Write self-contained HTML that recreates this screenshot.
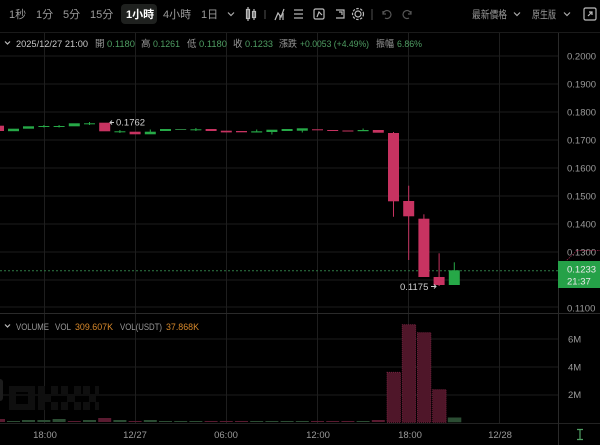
<!DOCTYPE html>
<html><head><meta charset="utf-8">
<style>
html,body{margin:0;padding:0;background:#000;width:600px;height:445px;overflow:hidden}
svg{display:block}
text{font-family:"Liberation Sans","Noto Sans CJK TC",sans-serif}
</style></head><body>
<svg width="600" height="445" viewBox="0 0 600 445" xmlns="http://www.w3.org/2000/svg">
<rect width="600" height="445" fill="#000"/>
<!-- toolbar -->
<rect x="121" y="4" width="36" height="20" rx="4" fill="#1f211f"/>
<g font-size="11" fill="#9a9a9a">
<text x="9" y="18">1秒</text>
<text x="36" y="18">1分</text>
<text x="63" y="18">5分</text>
<text x="90" y="18">15分</text>
<text x="126" y="18" fill="#fff" font-weight="bold">1小時</text>
<text x="163" y="18">4小時</text>
<text x="201" y="18">1日</text>
</g>
<path d="M228 12.5l3 3l3-3" stroke="#aaa" stroke-width="1.2" fill="none"/>
<!-- icons -->
<g stroke="#bbb" stroke-width="1.2" fill="none">
<rect x="246.5" y="9.5" width="3" height="9"/><line x1="248" y1="7" x2="248" y2="21"/>
<rect x="252.5" y="11.5" width="3" height="6"/><line x1="254" y1="9" x2="254" y2="20"/>
<line x1="265" y1="10" x2="265" y2="19" stroke="#444"/>
<path d="M275 20l3-7l3 4l3-8"/><line x1="280" y1="15" x2="280" y2="20"/><line x1="283" y1="13" x2="283" y2="20"/>
<line x1="294" y1="10" x2="303" y2="10"/><line x1="294" y1="14" x2="303" y2="14"/><line x1="294" y1="18" x2="303" y2="18"/>
<rect x="314" y="9" width="10" height="10" rx="1.5"/><path d="M317 17l2-5l3 3"/>
<path d="M336 10h8v8h-8"/><path d="M339 12h3v3"/>
<circle cx="358" cy="14" r="3"/><circle cx="358" cy="14" r="5.5" stroke-dasharray="2.5 1.5"/>
<line x1="372" y1="9" x2="372" y2="20" stroke="#444"/>
<path d="M383 11v3h3" stroke="#555"/><path d="M383 14a4 4 0 1 1 2 4" stroke="#555"/>
<path d="M411 11v3h-3" stroke="#555"/><path d="M411 14a4 4 0 1 0 -2 4" stroke="#555"/>
<rect x="584" y="8" width="12" height="12" rx="1.5"/><path d="M588 16l4-4M589 12h3v3" />
</g>
<g font-size="10.5" fill="#9a9a9a">
<text x="472" y="18" textLength="35" lengthAdjust="spacingAndGlyphs">最新價格</text>
<text x="532" y="18" textLength="24" lengthAdjust="spacingAndGlyphs">原生版</text>
</g>
<path d="M514 12.5l3 3l3-3M564 12.5l3 3l3-3" stroke="#aaa" stroke-width="1.2" fill="none"/>
<line x1="0" y1="32.5" x2="600" y2="32.5" stroke="#1a1a1a"/>

<!-- grid -->
<g stroke="#1c1c1c" stroke-width="1">
<line x1="0" y1="56" x2="558" y2="56"/>
<line x1="0" y1="84" x2="558" y2="84"/>
<line x1="0" y1="112" x2="558" y2="112"/>
<line x1="0" y1="140" x2="558" y2="140"/>
<line x1="0" y1="168" x2="558" y2="168"/>
<line x1="0" y1="196" x2="558" y2="196"/>
<line x1="0" y1="224" x2="558" y2="224"/>
<line x1="0" y1="252" x2="558" y2="252"/>
<line x1="0" y1="280" x2="558" y2="280"/>
<line x1="0" y1="307" x2="558" y2="307"/>
<line x1="0" y1="339" x2="558" y2="339"/>
<line x1="0" y1="367" x2="558" y2="367"/>
<line x1="0" y1="395" x2="558" y2="395"/>
</g>
<g stroke="#1e1e1e" stroke-width="1">
<line x1="44.5" y1="33" x2="44.5" y2="424"/>
<line x1="135.5" y1="33" x2="135.5" y2="424"/>
<line x1="226.5" y1="33" x2="226.5" y2="424"/>
<line x1="317.5" y1="33" x2="317.5" y2="424"/>
<line x1="408.5" y1="33" x2="408.5" y2="424"/>
<line x1="499.5" y1="33" x2="499.5" y2="424"/>
</g>
<line x1="0" y1="313.5" x2="600" y2="313.5" stroke="#2a2a2a"/>
<line x1="0" y1="423.5" x2="600" y2="423.5" stroke="#222"/>
<line x1="558.5" y1="33" x2="558.5" y2="445" stroke="#2a2a2a"/>

<!-- header row -->
<path d="M5 41.5l2.5 2.5l2.5-2.5" stroke="#bbb" stroke-width="1.2" fill="none"/>
<g font-size="9.5" fill="#9a9a9a" lengthAdjust="spacingAndGlyphs">
<text x="16" y="47" fill="#c8c8c8" textLength="72" lengthAdjust="spacingAndGlyphs">2025/12/27 21:00</text>
<text x="95" y="47">開</text><text x="107" y="47" fill="#4f9e63" textLength="28" lengthAdjust="spacingAndGlyphs">0.1180</text>
<text x="141" y="47">高</text><text x="153" y="47" fill="#4f9e63" textLength="27" lengthAdjust="spacingAndGlyphs">0.1261</text>
<text x="187" y="47">低</text><text x="199" y="47" fill="#4f9e63" textLength="28" lengthAdjust="spacingAndGlyphs">0.1180</text>
<text x="233" y="47">收</text><text x="245" y="47" fill="#4f9e63" textLength="28" lengthAdjust="spacingAndGlyphs">0.1233</text>
<text x="279" y="47" textLength="18" lengthAdjust="spacingAndGlyphs">漲跌</text><text x="300" y="47" fill="#4f9e63" textLength="69" lengthAdjust="spacingAndGlyphs">+0.0053 (+4.49%)</text>
<text x="376" y="47" textLength="18" lengthAdjust="spacingAndGlyphs">振幅</text><text x="397" y="47" fill="#4f9e63" textLength="25" lengthAdjust="spacingAndGlyphs">6.86%</text>
</g>

<!-- price axis -->
<g font-size="9.5" fill="#9a9a9a">
<text x="567" y="59.5">0.2000</text>
<text x="567" y="87.5">0.1900</text>
<text x="567" y="115.5">0.1800</text>
<text x="567" y="143.5">0.1700</text>
<text x="567" y="171.5">0.1600</text>
<text x="567" y="199.5">0.1500</text>
<text x="567" y="227.5">0.1400</text>
<text x="567" y="255.5">0.1300</text>
<text x="567" y="311.5">0.1100</text>
</g>
<path d="M577 250.5H600M577 250.5L566 261" stroke="#c73361" stroke-width="0.7" stroke-dasharray="1.5 1" fill="none" opacity="0.8"/>
<line x1="0" y1="270.8" x2="558" y2="270.8" stroke="#2f7a45" stroke-dasharray="2 2"/>
<rect x="558" y="261" width="42" height="27" fill="#25a148"/>
<g font-size="9.5" fill="#eaeaea">
<text x="567" y="272.5">0.1233</text>
<text x="567" y="284.5">21:37</text>
</g>

<!-- candles -->
<g>
<rect x="-7" y="125.7" width="11" height="5.3" fill="#c73361"/>
<rect x="8" y="128.7" width="11" height="2.5" fill="#26a847"/>
<rect x="23" y="126.3" width="11" height="2.4" fill="#26a847"/>
<line x1="43.9" y1="125" x2="43.9" y2="127.5" stroke="#26a847"/><rect x="38.4" y="126" width="11" height="1" fill="#26a847"/>
<line x1="59.1" y1="125" x2="59.1" y2="127.5" stroke="#26a847"/><rect x="53.6" y="126" width="11" height="1" fill="#26a847"/>
<rect x="68.8" y="123.3" width="11" height="3" fill="#26a847"/>
<line x1="89.5" y1="122" x2="89.5" y2="125" stroke="#26a847"/><rect x="84" y="123.3" width="11" height="1" fill="#26a847"/>
<rect x="99.2" y="122.7" width="11" height="8.6" fill="#c73361"/>
<line x1="119.9" y1="130" x2="119.9" y2="133" stroke="#26a847"/><rect x="114.4" y="131.3" width="11" height="1" fill="#26a847"/>
<rect x="129.6" y="131.7" width="11" height="2.6" fill="#c73361"/>
<line x1="150.3" y1="129.5" x2="150.3" y2="132" stroke="#26a847"/><rect x="144.8" y="131.7" width="11" height="2.6" fill="#26a847"/>
<rect x="160" y="129" width="11" height="2" fill="#26a847"/>
<rect x="175.2" y="129" width="11" height="1" fill="#2c7a40"/>
<line x1="195.9" y1="128" x2="195.9" y2="131" stroke="#26a847"/><rect x="190.4" y="129.3" width="11" height="1" fill="#26a847"/>
<rect x="205.6" y="129" width="11" height="2" fill="#c73361"/>
<rect x="220.8" y="130.7" width="11" height="1.7" fill="#c73361"/>
<rect x="236" y="131" width="11" height="1.3" fill="#c73361"/>
<line x1="256.7" y1="129.5" x2="256.7" y2="132" stroke="#26a847"/><rect x="251.2" y="131.3" width="11" height="1.2" fill="#26a847"/>
<line x1="271.9" y1="131" x2="271.9" y2="134.5" stroke="#26a847"/><rect x="266.4" y="129.7" width="11" height="2.3" fill="#26a847"/>
<rect x="281.6" y="129" width="11" height="2" fill="#26a847"/>
<line x1="302.3" y1="129" x2="302.3" y2="132.5" stroke="#26a847"/><rect x="296.8" y="128.3" width="11" height="2.4" fill="#26a847"/>
<rect x="312" y="129.3" width="11" height="1" fill="#c73361"/>
<rect x="327.2" y="130" width="11" height="1" fill="#c73361"/>
<rect x="342.4" y="130.5" width="11" height="1" fill="#c73361"/>
<line x1="363.1" y1="128.5" x2="363.1" y2="131" stroke="#26a847"/><rect x="357.6" y="130" width="11" height="1.2" fill="#26a847"/>
<rect x="372.8" y="130" width="11" height="2.7" fill="#c73361"/>
<line x1="393.5" y1="132" x2="393.5" y2="216.7" stroke="#c73361"/>
<rect x="388" y="133" width="11" height="68.3" fill="#c73361"/>
<line x1="408.7" y1="185.7" x2="408.7" y2="260" stroke="#c73361"/>
<rect x="403.2" y="201" width="11" height="15.3" fill="#c73361"/>
<line x1="423.9" y1="214.3" x2="423.9" y2="277" stroke="#c73361"/>
<rect x="418.4" y="218.7" width="11" height="58.3" fill="#c73361"/>
<line x1="439.1" y1="253.3" x2="439.1" y2="286" stroke="#c73361"/>
<rect x="433.6" y="277" width="11" height="8" fill="#c73361"/>
<line x1="454.3" y1="262.3" x2="454.3" y2="285" stroke="#26a847"/>
<rect x="448.8" y="270.3" width="11" height="14.7" fill="#26a847"/>
</g>
<g font-size="9.5" fill="#d0d0d0">
<text x="116" y="125.5">0.1762</text>
<text x="400" y="290">0.1175</text>
</g>
<path d="M114 122.5h-4m2-2l-2 2l2 2" stroke="#ccc" stroke-width="1" fill="none"/>
<path d="M431 286.5h5m-2-2l2 2l-2 2" stroke="#ccc" stroke-width="1" fill="none"/>

<!-- volume header -->
<path d="M5 324.5l2.5 2.5l2.5-2.5" stroke="#bbb" stroke-width="1.2" fill="none"/>
<g font-size="9.5" fill="#9a9a9a">
<text x="16" y="330" textLength="33" lengthAdjust="spacingAndGlyphs">VOLUME</text>
<text x="55" y="330" textLength="16" lengthAdjust="spacingAndGlyphs">VOL</text>
<text x="75" y="330" fill="#d8892b" textLength="38" lengthAdjust="spacingAndGlyphs">309.607K</text>
<text x="120" y="330" textLength="42" lengthAdjust="spacingAndGlyphs">VOL(USDT)</text>
<text x="166" y="330" fill="#d8892b" textLength="33" lengthAdjust="spacingAndGlyphs">37.868K</text>
</g>
<g font-size="9.5" fill="#9a9a9a">
<text x="568" y="342.5">6M</text>
<text x="568" y="370.5">4M</text>
<text x="568" y="398">2M</text>
</g>

<!-- watermark -->
<g fill="#0f0f0f">
<path d="M9 386h26v24h-26zM16 392v12h12v-12z" fill-rule="evenodd"/>
<rect x="38" y="386" width="7" height="24"/><rect x="45" y="394" width="6" height="8"/><rect x="51" y="386" width="7" height="8"/><rect x="51" y="402" width="7" height="8"/>
<rect x="61" y="386" width="7" height="8"/><rect x="74" y="386" width="7" height="8"/><rect x="67" y="394" width="8" height="8"/><rect x="61" y="402" width="7" height="8"/><rect x="74" y="402" width="7" height="8"/>
<rect x="83" y="386" width="7" height="8"/><rect x="95" y="386" width="4" height="8"/><rect x="89" y="394" width="7" height="8"/><rect x="83" y="402" width="7" height="8"/><rect x="95" y="402" width="4" height="8"/>
</g>
<rect x="-4" y="379" width="7" height="22" rx="3" fill="#1c1c1c"/>

<!-- volume bars -->
<g>
<rect x="-8" y="419" width="13" height="3" fill="#5a1a30"/>
<rect x="7" y="421" width="13" height="1" fill="#2b4d33"/>
<rect x="22" y="420" width="13" height="2" fill="#2b4d33"/>
<rect x="37.4" y="420" width="13" height="2" fill="#2b4d33"/>
<rect x="52.6" y="419" width="13" height="3" fill="#2b4d33"/>
<rect x="67.8" y="421" width="13" height="1" fill="#5a1a30"/>
<rect x="83" y="420" width="13" height="2" fill="#2b4d33"/>
<rect x="98.2" y="418" width="13" height="4" fill="#5a1a30"/>
<rect x="113.4" y="420" width="13" height="2" fill="#2b4d33"/>
<rect x="128.6" y="421" width="13" height="1" fill="#5a1a30"/>
<rect x="143.8" y="420" width="13" height="2" fill="#2b4d33"/>
<rect x="159" y="421" width="13" height="1" fill="#2b4d33"/>
<rect x="174.2" y="421" width="13" height="1" fill="#2b4d33"/>
<rect x="189.4" y="421" width="13" height="1" fill="#2b4d33"/>
<rect x="204.6" y="421" width="13" height="1" fill="#5a1a30"/>
<rect x="219.8" y="421" width="13" height="1" fill="#5a1a30"/>
<rect x="235" y="421" width="13" height="1" fill="#5a1a30"/>
<rect x="250.2" y="421" width="13" height="1" fill="#2b4d33"/>
<rect x="265.4" y="421" width="13" height="1" fill="#2b4d33"/>
<rect x="280.6" y="421" width="13" height="1" fill="#2b4d33"/>
<rect x="295.8" y="421" width="13" height="1" fill="#2b4d33"/>
<rect x="311" y="421" width="13" height="1" fill="#5a1a30"/>
<rect x="326.2" y="421" width="13" height="1" fill="#5a1a30"/>
<rect x="341.4" y="421" width="13" height="1" fill="#5a1a30"/>
<rect x="356.6" y="421" width="13" height="1" fill="#2b4d33"/>
<rect x="371.8" y="420" width="13" height="2" fill="#5a1a30"/>
<rect x="387" y="372.3" width="13.5" height="50" fill="#4f1629" stroke="#7a2442" stroke-width="0.8" stroke-dasharray="1 1"/>
<rect x="402.2" y="324.7" width="13.5" height="97.6" fill="#4f1629" stroke="#7a2442" stroke-width="0.8" stroke-dasharray="1 1"/>
<rect x="417.4" y="332.7" width="13.5" height="89.6" fill="#4f1629" stroke="#7a2442" stroke-width="0.8" stroke-dasharray="1 1"/>
<rect x="432.6" y="389.7" width="13.5" height="32.6" fill="#4f1629" stroke="#7a2442" stroke-width="0.8" stroke-dasharray="1 1"/>
<rect x="447.8" y="417.5" width="13.5" height="4.8" fill="#2b4d33"/>
</g>

<!-- time axis -->
<g font-size="9.5" fill="#9a9a9a" text-anchor="middle">
<text x="45" y="438">18:00</text>
<text x="135" y="438">12/27</text>
<text x="226" y="438">06:00</text>
<text x="318" y="438">12:00</text>
<text x="410" y="438">18:00</text>
<text x="500" y="438">12/28</text>
</g>
<path d="M577 429.5h6M577 439.5h6M580 429.5v10" stroke="#4f9e63" stroke-width="1.2" fill="none"/>
</svg>
</body></html>
